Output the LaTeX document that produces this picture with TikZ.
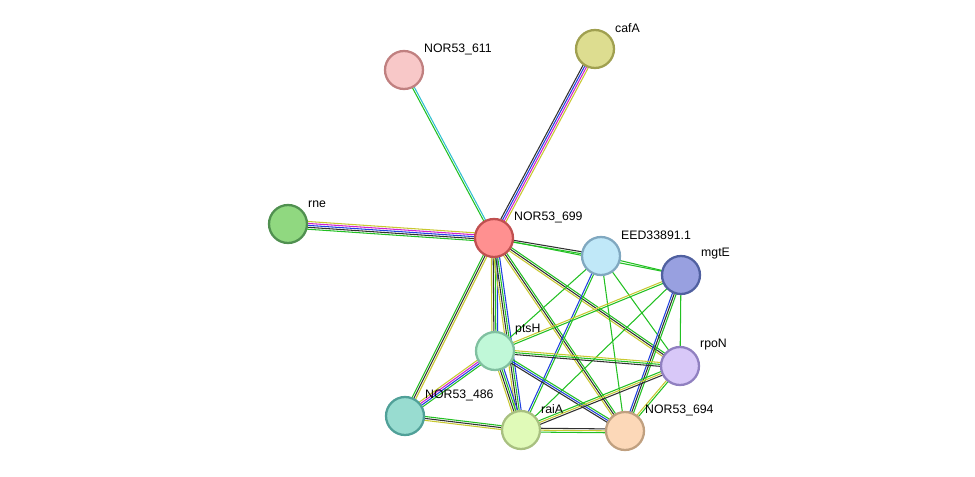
\documentclass[tikz,border=0pt]{standalone}
\usepackage{fontspec}
\setmainfont{Liberation Sans}
\usetikzlibrary{calc}
\definecolor{eGreen}{HTML}{22C022}
\definecolor{eYel}{HTML}{C8C830}
\definecolor{eBlue}{HTML}{2040E0}
\definecolor{eMag}{HTML}{D020D0}
\definecolor{eCyan}{HTML}{30C0D0}
\definecolor{eBlack}{HTML}{303030}
\definecolor{f611}{HTML}{F8C8C8}\definecolor{d611}{HTML}{C08080}
\definecolor{fcaf}{HTML}{DDDD90}\definecolor{dcaf}{HTML}{A0A050}
\definecolor{frne}{HTML}{90D880}\definecolor{drne}{HTML}{509050}
\definecolor{f699}{HTML}{FF9090}\definecolor{d699}{HTML}{C05050}
\definecolor{feed}{HTML}{C0E8F8}\definecolor{deed}{HTML}{80A8C0}
\definecolor{fmgt}{HTML}{98A0E0}\definecolor{dmgt}{HTML}{5060A0}
\definecolor{fpts}{HTML}{C0F8D8}\definecolor{dpts}{HTML}{80C0A0}
\definecolor{frpo}{HTML}{D8C8F8}\definecolor{drpo}{HTML}{9080C0}
\definecolor{f486}{HTML}{98DCD0}\definecolor{d486}{HTML}{50A098}
\definecolor{frai}{HTML}{E0FAB8}\definecolor{drai}{HTML}{A8C080}
\definecolor{f694}{HTML}{FCD8B8}\definecolor{d694}{HTML}{C0A080}
\tikzset{
  prot/.style={circle, minimum size=0.76cm, inner sep=0pt,
    line width=1.3pt, fill=f#1, draw=d#1},
  lab/.style={font=\fontsize{7}{8}\selectfont, anchor=west}
}
% parallel coloured lines between two nodes, bundle centred
\newcommand\edge[3]{%
  \foreach \c [count=\n] in {#3} {\global\let\nlines\n}%
  \foreach \c [count=\i] in {#3} {%
    \pgfmathsetmacro\off{(\i-1-(\nlines-1)/2)*1.1}%
    \draw[\c, line width=0.6pt]
      ($(#1)!\off pt!90:(#2)$) -- ($(#2)!\off pt!-90:(#1)$);
  }%
}
\begin{document}
\begin{tikzpicture}[x=0.02cm, y=-0.02cm]
\useasboundingbox (0,0) rectangle (975,477);
% Positions
\coordinate (n611) at (404,70);
\coordinate (caf) at (595,49);
\coordinate (rne) at (288,224);
\coordinate (n699) at (494,238);
\coordinate (eed) at (601,256);
\coordinate (mgt) at (681,275);
\coordinate (pts) at (495,351);
\coordinate (rpo) at (680,366);
\coordinate (n486) at (405,416);
\coordinate (rai) at (521,430);
\coordinate (n694) at (625,431);
% Edges
\edge{n699}{n611}{eCyan,eGreen}
\edge{n699}{caf}{eYel,eMag,eBlue,eBlack}
\edge{n699}{rne}{eYel,eMag,eBlue,eBlack,eGreen}
\edge{n699}{eed}{eGreen,eBlack}
\edge{n699}{mgt}{eGreen}
\edge{n699}{pts}{eYel,eBlack,eGreen,eBlue}
\edge{n699}{rpo}{eYel,eBlack,eGreen}
\edge{n699}{n486}{eGreen,eBlack,eYel}
\edge{n699}{rai}{eYel,eBlack,eGreen,eBlue}
\edge{n699}{n694}{eYel,eBlack,eGreen}
\edge{eed}{mgt}{eGreen}
\edge{eed}{pts}{eGreen}
\edge{eed}{rai}{eBlue,eGreen}
\edge{eed}{n694}{eGreen}
\edge{eed}{rpo}{eGreen}
\edge{mgt}{pts}{eYel,eGreen}
\edge{mgt}{rpo}{eGreen}
\edge{mgt}{n694}{eBlue,eBlack,eGreen}
\edge{mgt}{rai}{eGreen}
\edge{pts}{rpo}{eBlack,eGreen,eYel}
\edge{pts}{n694}{eBlack,eBlue,eGreen}
\edge{pts}{rai}{eYel,eBlack,eGreen,eBlue}
\edge{pts}{n486}{eYel,eMag,eBlue,eGreen}
\edge{rpo}{rai}{eGreen,eYel,eBlack}
\edge{rpo}{n694}{eYel,eGreen}
\edge{n486}{rai}{eYel,eBlack,eGreen}
\edge{rai}{n694}{eGreen,eYel,eBlack}
% Nodes
\node[prot=611] (a611) at (n611) {};
\node[prot=caf] (acaf) at (caf) {};
\node[prot=rne] (arne) at (rne) {};
\node[prot=699] (a699) at (n699) {};
\node[prot=eed] (aeed) at (eed) {};
\node[prot=mgt] (amgt) at (mgt) {};
\node[prot=pts] (apts) at (pts) {};
\node[prot=rpo] (arpo) at (rpo) {};
\node[prot=486] (a486) at (n486) {};
\node[prot=rai] (arai) at (rai) {};
\node[prot=694] (a694) at (n694) {};
% Labels
\node[lab] (l611) at ($(n611)+(14,-21)$) {NOR53\_611};
\node[lab] (lcaf) at ($(caf)+(14,-21)$) {cafA};
\node[lab] (lrne) at ($(rne)+(14,-20)$) {rne};
\node[lab] (l699) at ($(n699)+(14,-21)$) {NOR53\_699};
\node[lab] (leed) at ($(eed)+(14,-21)$) {EED33891.1};
\node[lab] (lmgt) at ($(mgt)+(14,-21)$) {mgtE};
\node[lab] (lpts) at ($(pts)+(14,-21)$) {ptsH};
\node[lab] (lrpo) at ($(rpo)+(14,-21)$) {rpoN};
\node[lab] (l486) at ($(n486)+(14,-21)$) {NOR53\_486};
\node[lab] (lrai) at ($(rai)+(14,-21)$) {raiA};
\node[lab] (l694) at ($(n694)+(14,-21)$) {NOR53\_694};
\end{tikzpicture}
\end{document}
